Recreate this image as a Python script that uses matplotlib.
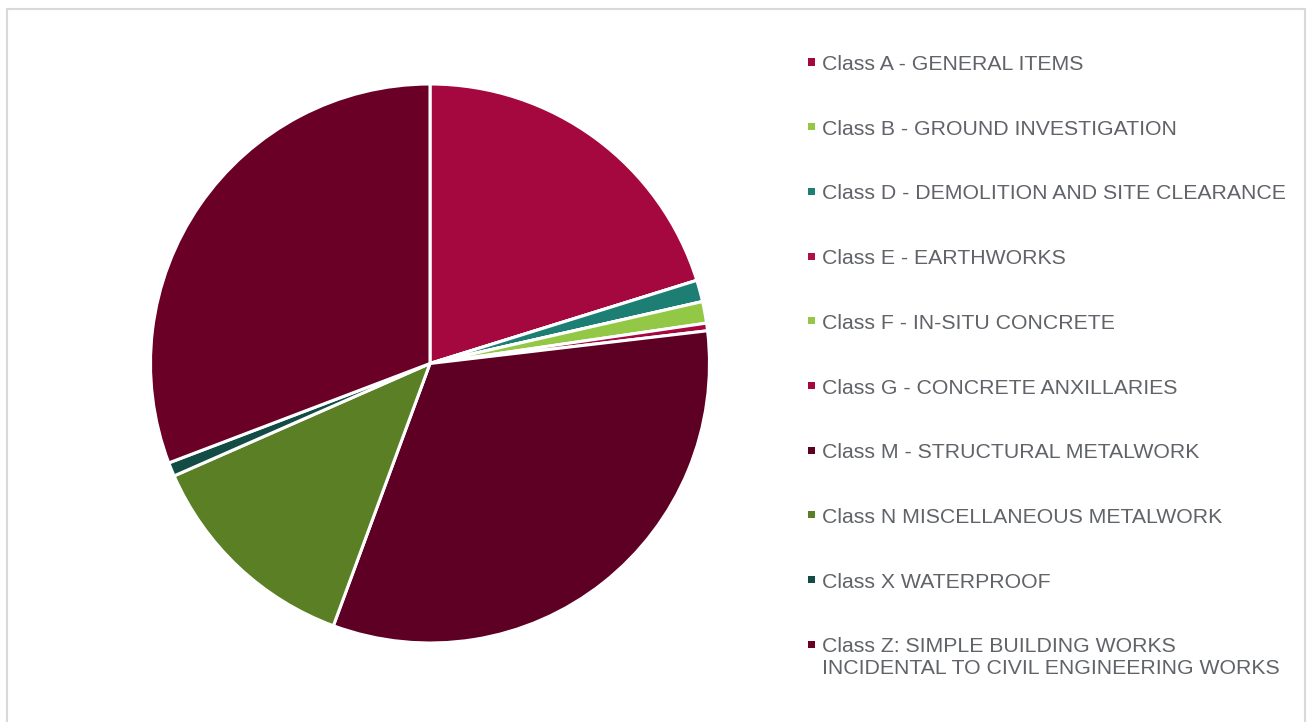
import matplotlib.pyplot as plt
from matplotlib.patches import Rectangle

# dados do grafico (percentagens)
classes = ["Class A - GENERAL ITEMS",
           "Class B - GROUND INVESTIGATION",
           "Class D - DEMOLITION AND SITE CLEARANCE",
           "Class E - EARTHWORKS",
           "Class F - IN-SITU CONCRETE",
           "Class G - CONCRETE ANXILLARIES",
           "Class M - STRUCTURAL METALWORK",
           "Class N MISCELLANEOUS METALWORK",
           "Class X WATERPROOF",
           "Class Z: SIMPLE BUILDING WORKS\nINCIDENTAL TO CIVIL ENGINEERING WORKS"]
valores = [20.2, 0.0, 1.25, 0.0, 1.25, 0.44, 32.5, 12.8, 0.8, 30.8]
cores = ["#A5083E", "#93C847", "#1D7F74", "#B0104A", "#93C847", "#A5083E",
         "#5E0023", "#5A7F24", "#134C44", "#6B0027"]

W, H = 1308, 722
fig = plt.figure(figsize=(W / 100, H / 100), dpi=100)
fig.patch.set_facecolor("white")

# moldura cinzenta
fig.patches.append(Rectangle((7 / W, -0.05), (1305 - 7) / W, 1.05 - 9 / H,
                             transform=fig.transFigure, fill=False,
                             edgecolor="#D9D9D9", linewidth=1.5))

cx, cy, r = 430, 363.5, 279.5
ax = fig.add_axes([(cx - r) / W, (H - cy - r) / H, 2 * r / W, 2 * r / H])
ax.pie(valores, colors=cores, startangle=90, counterclock=False,
       wedgeprops={"edgecolor": "white", "linewidth": 2.2})
ax.set_xlim(-1, 1)
ax.set_ylim(-1, 1)

# legenda manual
y0 = 62
passo = 64.7
for i, (nome, cor) in enumerate(zip(classes, cores)):
    y = y0 + i * passo
    fig.patches.append(Rectangle((808 / W, 1 - (y + 3.5) / H), 7 / W, 7 / H,
                                 transform=fig.transFigure, facecolor=cor,
                                 edgecolor="none"))
    fig.text(822 / W, 1 - (y - 7) / H, nome, ha="left", va="top",
             fontsize=15.3, color="#606368", family="Liberation Sans",
             linespacing=1.2)

fig.savefig("out.png", dpi=100)
